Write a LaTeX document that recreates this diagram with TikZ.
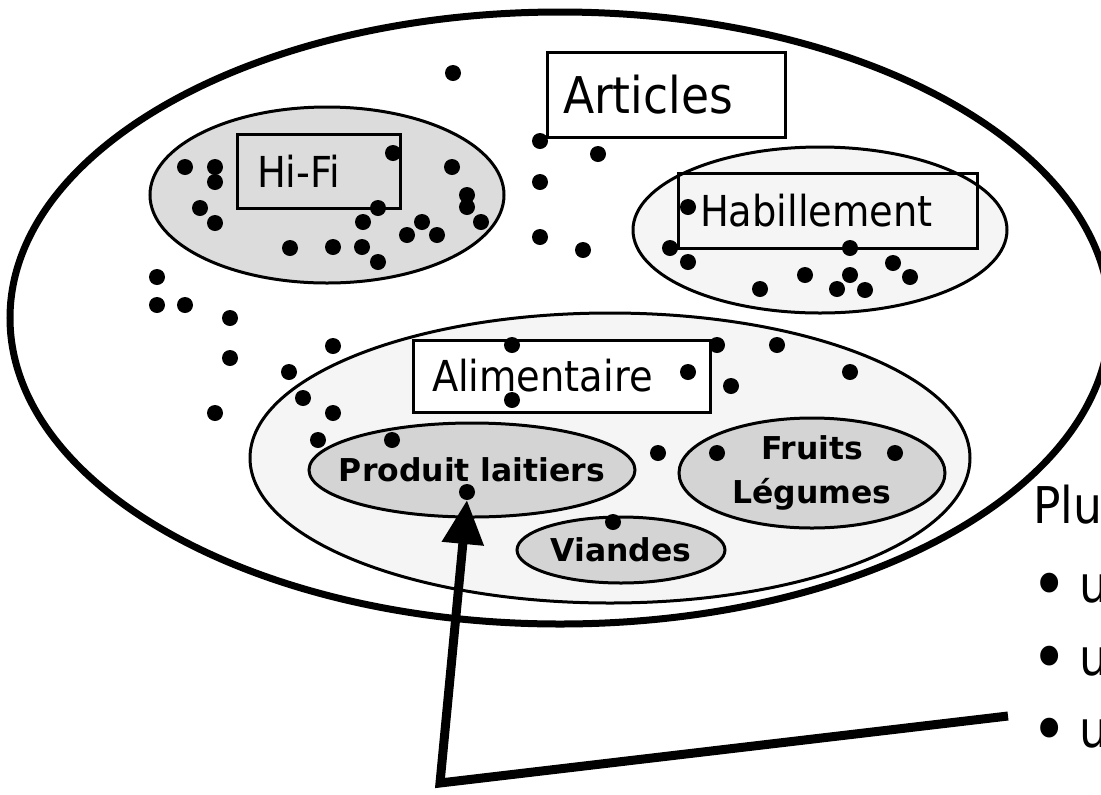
\documentclass[tikz,border=0pt]{standalone}
\usepackage{fontspec}
\setmainfont{DejaVu Sans}
\newfontfamily\condfont{DejaVu Sans Condensed}
\usetikzlibrary{arrows.meta,shapes.geometric}

\definecolor{hifigrey}{HTML}{DCDCDC}
\definecolor{subgrey}{HTML}{D4D4D4}
\definecolor{palegrey}{HTML}{F5F5F5}

% a larger list bullet, kept at the same height
\newcommand{\bigbullet}{\raisebox{-5pt}{\scalebox{1.35}{•}}}

\begin{document}
\begin{tikzpicture}[x=0.75pt,y=-0.75pt,
  every node/.style={inner sep=0pt, outer sep=0pt},
  universe/.style={ellipse, draw, line width=5.25pt},
  family/.style={ellipse, draw, line width=2.25pt},
  subset/.style={ellipse, draw, line width=2.25pt, fill=subgrey},
  tagbox/.style={draw, line width=2.25pt, align=left, inner ysep=0pt,
                 font=\condfont\fontsize{32}{38}\selectfont},
  boldlbl/.style={font=\bfseries\fontsize{23.6}{33}\selectfont, align=center},
  dot/.style={circle, fill=black, minimum size=12pt},
  listtxt/.style={font=\condfont\fontsize{38}{46}\selectfont, anchor=base west},
  arrowline/.style={line width=6.75pt, -{Triangle[width=30pt,length=33pt]}}
]
\useasboundingbox (0,0) rectangle (1101,794);
\fill[white] (0,0) rectangle (1101,794);

% the whole set of articles
\node[universe, minimum width=825pt, minimum height=459pt] (articles) at (560,318) {};

% families of articles
\node[family, fill=hifigrey, minimum width=265.5pt, minimum height=132pt] (hifi) at (327,195) {};
\node[family, fill=palegrey, minimum width=280.5pt, minimum height=124.5pt] (habill) at (820,230) {};
\node[family, fill=palegrey, minimum width=540pt, minimum height=217.5pt] (alim) at (610,458) {};

% food sub-families
\node[subset, minimum width=244.5pt, minimum height=70.5pt,
      label={[boldlbl]center:Produit laitiers}] (laitiers) at (472,470) {};
\node[subset, minimum width=156pt, minimum height=49.5pt,
      label={[boldlbl]center:Viandes}] (viandes) at (621,550) {};
\node[subset, minimum width=199.5pt, minimum height=82.5pt,
      label={[boldlbl]center:Fruits\\Légumes}] (fruits) at (812,473) {};

% name tags
\node[tagbox, font=\condfont\fontsize{38}{46}\selectfont, inner xsep=12pt,
      text width=154.5pt, minimum height=63.75pt] (tagarticles) at (666,94.5) {Articles};
\node[tagbox, inner xsep=15pt, text width=92.25pt, minimum height=55.5pt] (taghifi) at (318.5,171) {Hi-Fi};
\node[tagbox, inner xsep=16.5pt, text width=191.25pt, minimum height=56.25pt] (taghabill) at (827.5,210.5) {Habillement};
\node[tagbox, fill=white, inner xsep=14.25pt, text width=194.25pt, minimum height=54pt] (tagalim) at (561.5,376) {Alimentaire};

% individual articles
\foreach \p [count=\i] in {
  (453,73), (540,141), (598,154), (540,182), (540,237), (583,250),
  (157,277), (157,305), (185,305), (230,318), (230,358), (215,413),
  (289,372), (333,346), (303,398), (333,413), (318,440),
  (185,167), (215,167), (215,182), (393,153), (452,167), (200,208),
  (215,223), (378,208), (363,222), (467,195), (467,207), (481,222),
  (422,222), (407,235), (437,235), (290,248), (333,247), (362,247), (378,262),
  (688,207), (670,248), (688,262), (850,248), (805,275), (850,275),
  (893,263), (910,277), (760,289), (837,289), (865,290),
  (392,440), (512,345), (512,400), (688,372), (717,345), (777,345),
  (731,386), (850,372), (658,453), (717,453), (895,453), (613,522)}
  \node[dot] (art\i) at \p {};
\node[dot] (milk) at (467,492) {};

% text on the right
\node[listtxt] (plu) at (1033,523) {Plu};
\node[listtxt] (itema) at (1031,602) {\bigbullet\hspace{9pt}u};
\node[listtxt] (itemb) at (1031,675) {\bigbullet\hspace{9pt}u};
\node[listtxt] (itemc) at (1031,747) {\bigbullet\hspace{9pt}u};

% pointer from the list to one article
\coordinate (listend) at (1008,716);
\coordinate (bend) at (440,783);
\draw[arrowline] (listend) -- (bend) -- (milk.south);
\end{tikzpicture}
\end{document}
